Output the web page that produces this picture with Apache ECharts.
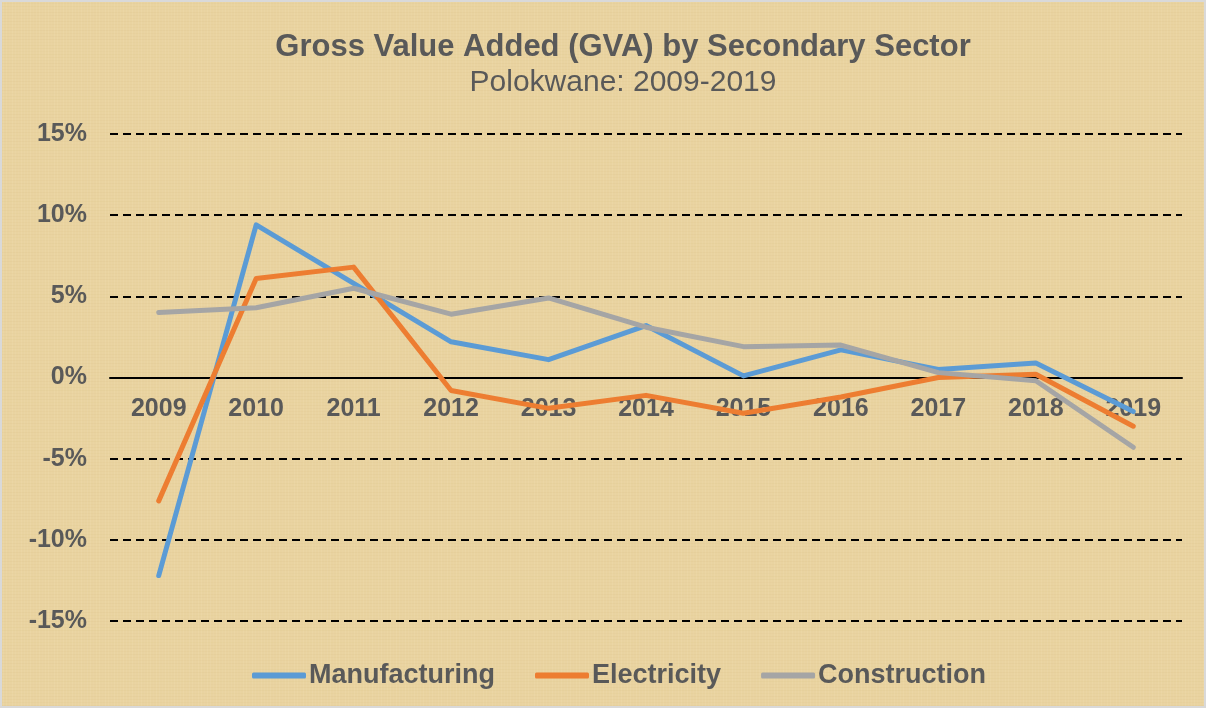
<!DOCTYPE html>
<html>
<head>
<meta charset="utf-8">
<script src="https://cdn.jsdelivr.net/npm/echarts@6/dist/echarts.min.js"></script>
<style>
  html, body { margin: 0; padding: 0; background: #fff; }
  #chart { width: 1206px; height: 708px; }
</style>
</head>
<body>
<div id="chart"></div>
<script>
// years on the category axis
var years = ['2009', '2010', '2011', '2012', '2013', '2014', '2015', '2016', '2017', '2018', '2019'];
// growth rates in percent
var manufacturing = [-12.2, 9.4, 5.8, 2.2, 1.1, 3.2, 0.1, 1.7, 0.5, 0.9, -2.1];
var electricity = [-7.6, 6.1, 6.8, -0.8, -1.9, -1.1, -2.2, -1.2, 0.0, 0.2, -3.0];
var construction = [4.0, 4.3, 5.5, 3.9, 4.9, 3.1, 1.9, 2.0, 0.3, -0.2, -4.3];
var yTicks = [-15, -10, -5, 0, 5, 10, 15];

var txt = '#595959';
var font = '"Liberation Sans", Arial, sans-serif';

// papyrus-like background: flat beige with faint streaks
function paperPattern() {
  var c = document.createElement('canvas');
  c.width = 240; c.height = 240;
  var ctx = c.getContext('2d');
  ctx.fillStyle = '#E9D3A0';
  ctx.fillRect(0, 0, 240, 240);
  for (var i = 0; i < 240; i += 3) {
    var a = 0.05 + 0.05 * Math.abs(Math.sin(i * 0.37));
    ctx.fillStyle = 'rgba(255,245,215,' + a + ')';
    ctx.fillRect(i, 0, 1, 240);
    ctx.fillStyle = 'rgba(200,170,100,' + (a * 0.8) + ')';
    ctx.fillRect(0, i, 240, 1);
  }
  return c;
}

function lineSeries(name, data, color) {
  return {
    name: name,
    type: 'line',
    data: data,
    showSymbol: false,
    symbol: 'none',
    lineStyle: { width: 5, color: color, cap: 'round', join: 'round' },
    itemStyle: { color: color },
    emphasis: { disabled: true }
  };
}

var myChart = echarts.init(document.getElementById('chart'));
myChart.setOption({
  backgroundColor: { image: paperPattern(), repeat: 'repeat' },
  animation: false,
  textStyle: { fontFamily: font },
  graphic: [
    {
      type: 'rect',
      shape: { x: 1, y: 1, width: 1204, height: 706 },
      style: { fill: 'none', stroke: '#d9d9d9', lineWidth: 2 },
      silent: true
    }
  ],
  title: {
    text: 'Gross Value Added (GVA) by Secondary Sector',
    subtext: 'Polokwane: 2009-2019',
    left: 618,
    top: 27,
    textAlign: 'center',
    itemGap: 5,
    textStyle: { fontFamily: font, fontSize: 31, fontWeight: 'bold', color: txt },
    subtextStyle: { fontFamily: font, fontSize: 30, color: txt }
  },
  legend: {
    top: 657,
    left: 247,
    icon: 'roundRect',
    itemWidth: 54,
    itemHeight: 6,
    itemGap: 40,
    textStyle: { fontFamily: font, fontSize: 27, fontWeight: 'bold', color: txt, padding: [0, 0, 0, -2] },
    data: ['Manufacturing', 'Electricity', 'Construction']
  },
  grid: { left: 110, right: 24, top: 134, bottom: 87, containLabel: false },
  xAxis: {
    type: 'category',
    data: years,
    boundaryGap: true,
    offset: -243.5,
    axisLine: { onZero: false, lineStyle: { color: '#000', width: 2 } },
    axisTick: { show: false },
    axisLabel: { margin: 19, fontSize: 25, fontWeight: 'bold', color: txt, fontFamily: font },
    z: 1
  },
  yAxis: {
    type: 'value',
    min: yTicks[0],
    max: yTicks[yTicks.length - 1],
    interval: 5,
    axisLine: { show: false },
    axisTick: { show: false },
    axisLabel: { formatter: '{value}%', margin: 23, fontSize: 25, fontWeight: 'bold', color: txt, fontFamily: font },
    splitLine: { lineStyle: { color: '#000', width: 1.8, type: [8, 5] } }
  },
  series: [
    lineSeries('Manufacturing', manufacturing, '#5B9BD5'),
    lineSeries('Electricity', electricity, '#ED7D31'),
    lineSeries('Construction', construction, '#A5A5A5')
  ]
});
</script>
</body>
</html>
